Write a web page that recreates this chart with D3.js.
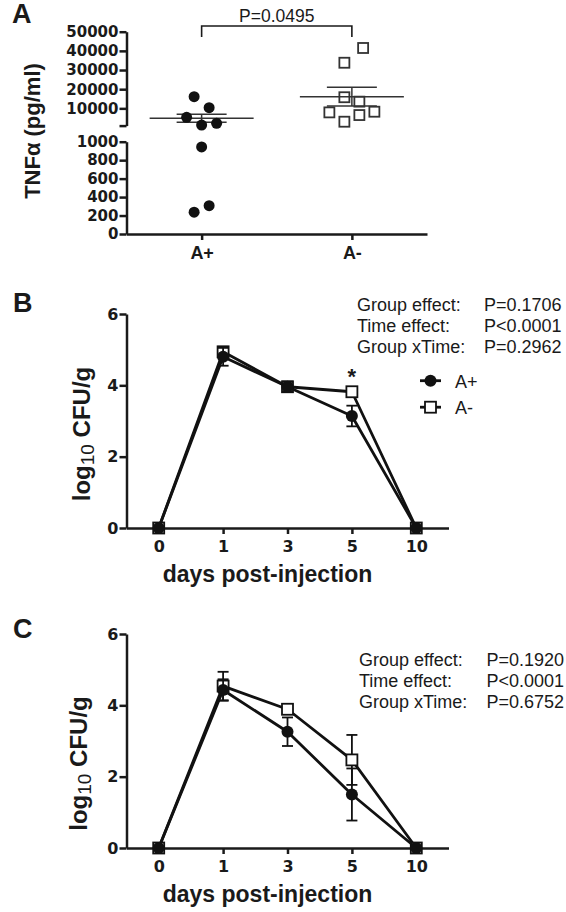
<!DOCTYPE html>
<html><head><meta charset="utf-8">
<script src="https://cdn.jsdelivr.net/npm/d3@7"></script>
<style>body{margin:0;background:#fff} svg{display:block}</style>
</head><body>
<svg id="c" width="566" height="912"></svg>
<script>
// ---------- Panel A data ----------
const groups = ["A+", "A-"];
const tnfAplus = [16080, 10340, 5330, 1300, 2190, 943, 236, 307];
const tnfAplusLane = [-0.5, 0.5, -1, 0, 1, 0, -0.5, 0.5];
const tnfAminus = [41500, 33800, 15800, 13500, 7900, 8250, 6500, 3030];
const tnfAminusLane = [0.75, -0.5, -0.5, 0.5, -1.5, 1.5, 0.5, -0.5];
const tnfMean = [4800, 16080];
const tnfSem = [2080, 4880];
const tnfUpperTicks = [10000, 20000, 30000, 40000, 50000];
const tnfLowerTicks = [0, 200, 400, 600, 800, 1000];
const pValueA = "P=0.0495";

// ---------- Panel B / C data ----------
const days = ["0", "1", "3", "5", "10"];
const cfuTicks = [0, 2, 4, 6];
const bAplus = [0, 4.80, 3.96, 3.14, 0];
const bAplusSem = [0, 0.25, 0.14, 0.29, 0];
const bAminus = [0, 4.94, 3.96, 3.82, 0];
const bAminusSem = [0, 0.14, 0.14, 0.06, 0];
const bStats = [["Group effect:", "P=0.1706"], ["Time effect:", "P<0.0001"], ["Group xTime:", "P=0.2962"]];
const cAplus = [0, 4.43, 3.26, 1.50, 0];
const cAplusSem = [0, 0.30, 0.40, 0.73, 0];
const cAminus = [0, 4.54, 3.89, 2.47, 0];
const cAminusSem = [0, 0.40, 0.12, 0.70, 0];
const cStats = [["Group effect:", "P=0.1920"], ["Time effect:", "P<0.0001"], ["Group xTime:", "P=0.6752"]];
const starDay = "5";

const svg = d3.select("#c");
const LAB = "'Liberation Sans', Arial, Helvetica, sans-serif";
const TICK = "'DejaVu Sans', 'Liberation Sans', sans-serif";
const INK = "#1a1a1a";

function panelLetter(t, x, y) {
  svg.append("text").attr("x", x).attr("y", y).text(t)
    .attr("font-family", LAB).attr("font-weight", "bold").attr("font-size", 27).attr("fill", INK);
}
function styleAxis(g, fs) {
  g.selectAll(".domain").attr("stroke", INK).attr("stroke-width", 2.5);
  g.selectAll(".tick line").attr("stroke", INK).attr("stroke-width", 2.5);
  g.selectAll(".tick text").attr("font-family", TICK).attr("font-weight", "bold")
    .attr("font-size", fs).attr("fill", INK);
}

// ================= Panel A =================
panelLetter("A", 12, 23);
const axA = 126.5;
const xA = d3.scalePoint().domain(groups).range([axA, 427]).padding(0.5);
const yUp = d3.scaleLinear().domain([1000, 50000]).range([125.6, 31.7]);
const yLo = d3.scaleLinear().domain([0, 1000]).range([234, 141.7]);
const yA = v => v > 1000 ? yUp(v) : yLo(v);

const gUp = svg.append("g").attr("transform", `translate(${axA},0)`)
  .call(d3.axisLeft(yUp).tickValues([1000].concat(tnfUpperTicks)).tickSize(7).tickSizeOuter(0)
    .tickFormat(d => d === 1000 ? "" : d));
styleAxis(gUp, 15);
gUp.selectAll(".tick text").attr("x", -8);
const gLo = svg.append("g").attr("transform", `translate(${axA},0)`)
  .call(d3.axisLeft(yLo).tickValues(tnfLowerTicks).tickSize(7).tickSizeOuter(0).tickFormat(d => d));
styleAxis(gLo, 15);
gLo.selectAll(".tick text").attr("x", -8);
const gxA = svg.append("g").attr("transform", `translate(0,${yLo(0)})`)
  .call(d3.axisBottom(xA).tickSize(6).tickSizeOuter(0));
styleAxis(gxA, 18);
gxA.selectAll(".tick text").attr("font-family", LAB).attr("font-size", 18).attr("y", 12);

svg.append("text").attr("transform", `translate(40,131) rotate(-90)`).attr("text-anchor", "middle")
  .attr("font-family", LAB).attr("font-weight", "bold").attr("font-size", 22).attr("fill", INK)
  .text("TNFα (pg/ml)");

// significance bracket
const brY = 26, brDrop = 11;
svg.append("path").attr("fill", "none").attr("stroke", INK).attr("stroke-width", 1.6)
  .attr("d", `M${xA("A+")},${brY + brDrop}V${brY}H${xA("A-")}V${brY + brDrop}`);
svg.append("text").attr("x", (xA("A+") + xA("A-")) / 2).attr("y", 22).attr("text-anchor", "middle")
  .attr("font-family", LAB).attr("font-size", 17.5).attr("fill", INK).text(pValueA);

// mean +- SEM
groups.forEach((g, i) => {
  const cx = xA(g);
  const m = svg.append("g").attr("stroke", "#333").attr("stroke-width", 1.5);
  m.append("line").attr("x1", cx - 52).attr("x2", cx + 52).attr("y1", yA(tnfMean[i])).attr("y2", yA(tnfMean[i]));
  m.append("line").attr("x1", cx).attr("x2", cx).attr("y1", yA(tnfMean[i] + tnfSem[i])).attr("y2", yA(tnfMean[i] - tnfSem[i]));
  [tnfMean[i] + tnfSem[i], tnfMean[i] - tnfSem[i]].forEach(v =>
    m.append("line").attr("x1", cx - 25).attr("x2", cx + 25).attr("y1", yA(v)).attr("y2", yA(v)));
});
const lane = 15;
svg.append("g").selectAll("circle").data(tnfAplus).join("circle")
  .attr("cx", (d, i) => xA("A+") + tnfAplusLane[i] * lane).attr("cy", d => yA(d))
  .attr("r", 5.5).attr("fill", "#111");
svg.append("g").selectAll("rect").data(tnfAminus).join("rect")
  .attr("x", (d, i) => xA("A-") + tnfAminusLane[i] * lane - 5).attr("y", d => yA(d) - 5)
  .attr("width", 10).attr("height", 10).attr("fill", "none").attr("stroke", "#333").attr("stroke-width", 1.8);

// ================= Panels B & C =================
function cfuPanel(opt) {
  const x = d3.scalePoint().domain(days).range([126.5, 448.5]).padding(0.5);
  const y = d3.scaleLinear().domain([0, 6]).range([opt.y0, opt.y0 - 214]);
  const gy = svg.append("g").attr("transform", `translate(126.5,0)`)
    .call(d3.axisLeft(y).tickValues(cfuTicks).tickSize(7).tickSizeOuter(0).tickFormat(d3.format("d")));
  styleAxis(gy, 16);
  gy.selectAll(".tick text").attr("x", -8);
  const gx = svg.append("g").attr("transform", `translate(0,${y(0)})`)
    .call(d3.axisBottom(x).tickSize(6).tickSizeOuter(0));
  styleAxis(gx, 16);
  gx.selectAll(".tick text").attr("y", 13);

  svg.append("text").attr("x", 267.5).attr("y", opt.y0 + 54).attr("text-anchor", "middle")
    .attr("font-family", LAB).attr("font-weight", "bold").attr("font-size", 23).attr("fill", INK)
    .text("days post-injection");
  const yt = svg.append("text").attr("transform", `translate(${opt.titleX},${opt.titleY}) rotate(-90)`)
    .attr("text-anchor", "middle").attr("font-family", LAB).attr("font-size", 24).attr("fill", INK);
  yt.append("tspan").attr("font-weight", "bold").text("log");
  yt.append("tspan").attr("font-size", 19).attr("dy", 4).text("10");
  yt.append("tspan").attr("font-weight", "bold").attr("dy", -4).text(" CFU/g");

  const series = [
    { v: opt.am, s: opt.amSem, shape: "square" },
    { v: opt.ap, s: opt.apSem, shape: "circle" }
  ];
  series.forEach(sr => {
    const pts = days.map((d, i) => ({ d, v: sr.v[i], s: sr.s[i] }));
    svg.append("path").datum(pts).attr("fill", "none").attr("stroke", "#111").attr("stroke-width", 2.8)
      .attr("stroke-linejoin", "round")
      .attr("d", d3.line().x(p => x(p.d)).y(p => y(p.v)));
    const eb = svg.append("g").attr("stroke", "#111").attr("stroke-width", 1.8);
    pts.filter(p => p.s > 0).forEach(p => {
      eb.append("line").attr("x1", x(p.d)).attr("x2", x(p.d)).attr("y1", y(p.v + p.s)).attr("y2", y(p.v - p.s));
      [p.v + p.s, p.v - p.s].forEach(v => eb.append("line").attr("x1", x(p.d) - 5.5).attr("x2", x(p.d) + 5.5)
        .attr("y1", y(v)).attr("y2", y(v)));
    });
    if (sr.shape === "circle") {
      svg.append("g").selectAll("circle").data(pts).join("circle")
        .attr("cx", p => x(p.d)).attr("cy", p => y(p.v)).attr("r", 6).attr("fill", "#111");
    } else {
      svg.append("g").selectAll("rect").data(pts).join("rect")
        .attr("x", p => x(p.d) - 5.5).attr("y", p => y(p.v) - 5.5).attr("width", 11).attr("height", 11)
        .attr("fill", "#fff").attr("stroke", "#111").attr("stroke-width", 1.8);
    }
  });

  const st = svg.append("g").attr("font-family", LAB).attr("font-size", 18).attr("fill", INK);
  opt.stats.forEach((r, i) => {
    st.append("text").attr("x", opt.statX).attr("y", opt.statY + i * 21.3).text(r[0]);
    st.append("text").attr("x", opt.statPX).attr("y", opt.statY + i * 21.3).text(r[1]);
  });
  return { x, y };
}

panelLetter("B", 13, 312);
const pB = cfuPanel({ y0: 528, ap: bAplus, apSem: bAplusSem, am: bAminus, amSem: bAminusSem,
  titleX: 90, titleY: 434, stats: bStats, statX: 357, statPX: 484, statY: 310.7 });
svg.append("text").attr("x", pB.x(starDay)).attr("y", 384).attr("text-anchor", "middle")
  .attr("font-family", LAB).attr("font-weight", "bold").attr("font-size", 22).attr("fill", INK).text("*");

// legend (panel B)
const legend = [{ name: "A+", shape: "circle" }, { name: "A-", shape: "square" }];
legend.forEach((l, i) => {
  const ly = 380.7 + i * 26.5;
  const g = svg.append("g");
  g.append("line").attr("x1", 420).attr("x2", 441).attr("y1", ly).attr("y2", ly).attr("stroke", "#111").attr("stroke-width", 2.8);
  if (l.shape === "circle") g.append("circle").attr("cx", 430.5).attr("cy", ly).attr("r", 6).attr("fill", "#111");
  else g.append("rect").attr("x", 425).attr("y", ly - 5.5).attr("width", 11).attr("height", 11)
    .attr("fill", "#fff").attr("stroke", "#111").attr("stroke-width", 1.8);
  g.append("text").attr("x", 455).attr("y", ly + 7).attr("font-family", LAB).attr("font-size", 18)
    .attr("fill", INK).text(l.name);
});

panelLetter("C", 13, 638);
cfuPanel({ y0: 848, ap: cAplus, apSem: cAplusSem, am: cAminus, amSem: cAminusSem,
  titleX: 87, titleY: 763.5, stats: cStats, statX: 359, statPX: 486.5, statY: 665.7 });
</script>
</body></html>
